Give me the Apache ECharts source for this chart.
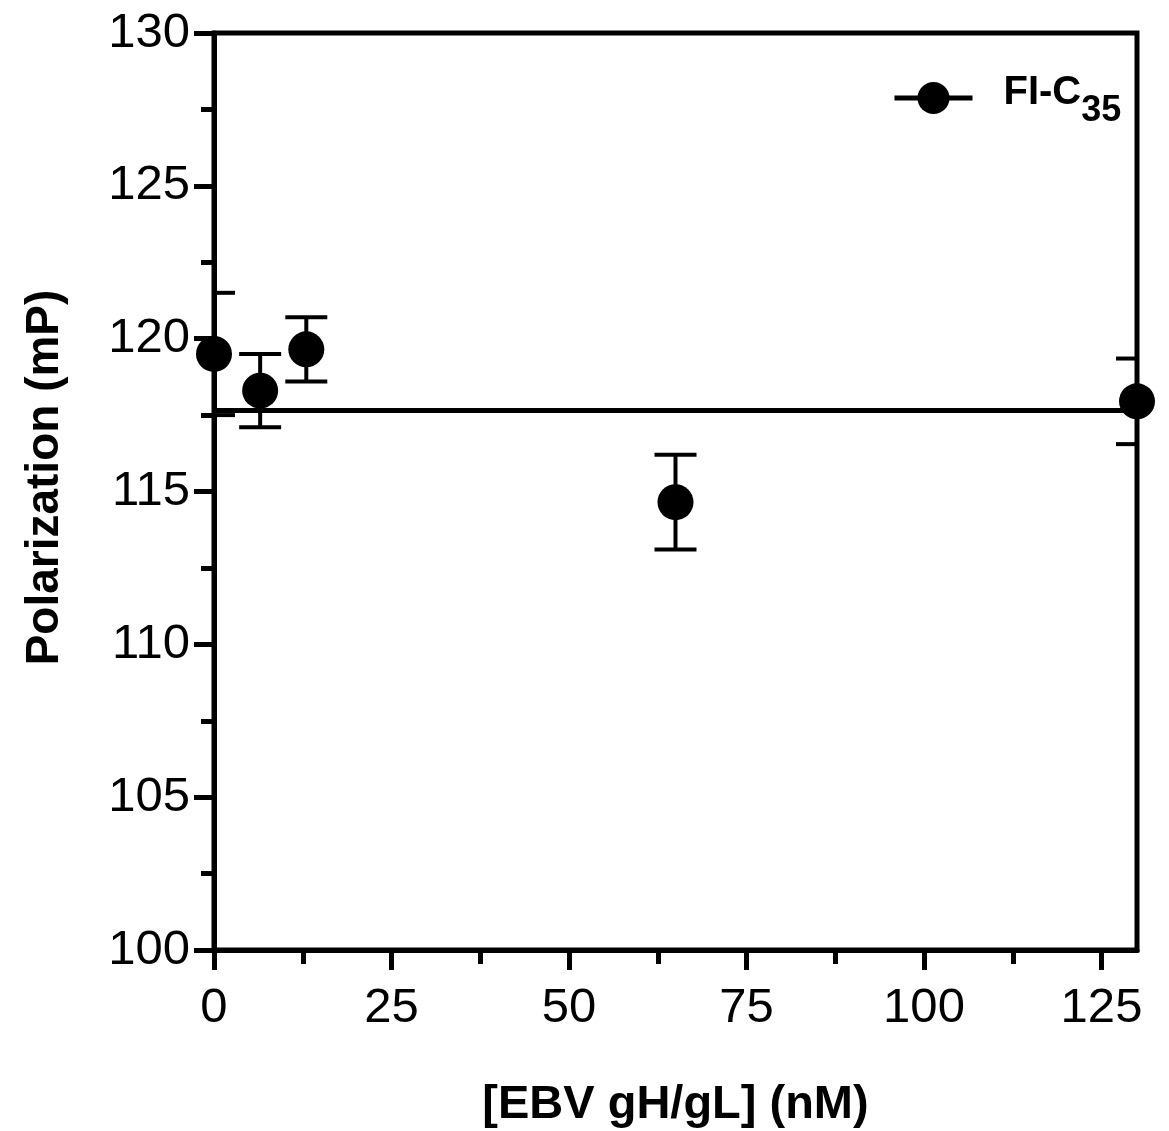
<!DOCTYPE html>
<html>
<head>
<meta charset="utf-8">
<script src="https://cdn.jsdelivr.net/npm/echarts@6/dist/echarts.min.js"></script>
<style>
  html, body { margin: 0; padding: 0; background: #fff; }
  #chart { width: 1169px; height: 1131px; }
</style>
</head>
<body>
<div id="chart"></div>
<script>
// ---- data ----
const concentrations = [0, 6.5, 13, 65, 130];          // [EBV gH/gL] (nM)
const polarization   = [119.5, 118.3, 119.65, 114.65, 117.95]; // mP
const errors         = [2.0, 1.2, 1.05, 1.55, 1.4];     // error bar half-length (mP)
const fitLevel       = 117.65;                          // horizontal fit line (mP)
const xMajorTicks    = [0, 25, 50, 75, 100, 125];
const xMinorTicks    = [12.5, 37.5, 62.5, 87.5, 112.5];
const seriesName     = 'FI-C35';

const FONT = 'Liberation Sans, Arial, Helvetica, sans-serif';

const pointData = concentrations.map((x, i) => [x, polarization[i]]);
const errData = concentrations.map((x, i) => [x, polarization[i] - errors[i], polarization[i] + errors[i]]);
const fitData = [[0, fitLevel], [130, fitLevel]];

const chart = echarts.init(document.getElementById('chart'), null, { renderer: 'canvas' });

const gridBox = { left: 214, right: 32, top: 33, bottom: 181 };

const option = {
  backgroundColor: '#fff',
  animation: false,
  grid: [
    Object.assign({ show: true, borderColor: '#000', borderWidth: 5, backgroundColor: 'transparent', containLabel: false, outerBoundsMode: 'none' }, gridBox),
    Object.assign({ show: false, containLabel: false, outerBoundsMode: 'none' }, gridBox)
  ],
  legend: {
    show: true,
    data: [seriesName],
    left: 887,
    top: 62,
    itemWidth: 78,
    itemHeight: 40,
    lineStyle: { color: '#000', width: 5, opacity: 1 },
    itemStyle: { color: '#000', opacity: 1 },
    formatter: () => '{a|FI-C}{b|35}',
    textStyle: {
      padding: [0, 0, 0, 26],
      rich: {
        a: { fontFamily: FONT, fontWeight: 'bold', fontSize: 40, color: '#000', lineHeight: 40, padding: [0, 0, 10, 0] },
        b: { fontFamily: FONT, fontWeight: 'bold', fontSize: 36, color: '#000', lineHeight: 36, padding: [26, 0, 0, 0] }
      }
    }
  },
  xAxis: [
    {
      type: 'value',
      gridIndex: 0,
      min: 0,
      max: 130,
      position: 'bottom',
      axisLine: { show: true, onZero: false, lineStyle: { color: '#000', width: 5 } },
      axisTick: { show: true, customValues: xMajorTicks, length: 20, lineStyle: { color: '#000', width: 5 } },
      axisLabel: { show: true, customValues: xMajorTicks, fontFamily: FONT, fontSize: 49, color: '#000', margin: 34 },
      splitLine: { show: false },
      name: '[EBV gH/gL] (nM)',
      nameLocation: 'middle',
      nameGap: 132,
      nameTextStyle: { fontFamily: FONT, fontWeight: 'bold', fontSize: 47, color: '#000' }
    },
    {
      type: 'value',
      gridIndex: 1,
      min: 0,
      max: 130,
      position: 'bottom',
      axisLine: { show: false },
      axisTick: { show: true, customValues: xMinorTicks, length: 14, lineStyle: { color: '#000', width: 5 } },
      axisLabel: { show: false },
      splitLine: { show: false }
    }
  ],
  yAxis: [
    {
      type: 'value',
      gridIndex: 0,
      min: 100,
      max: 130,
      interval: 5,
      axisLine: { show: true, onZero: false, lineStyle: { color: '#000', width: 5 } },
      axisTick: { show: true, length: 20, lineStyle: { color: '#000', width: 5 } },
      minorTick: { show: true, splitNumber: 2, length: 13, lineStyle: { color: '#000', width: 5 } },
      axisLabel: { fontFamily: FONT, fontSize: 49, color: '#000', margin: 24 },
      splitLine: { show: false },
      minorSplitLine: { show: false },
      name: 'Polarization (mP)',
      nameLocation: 'middle',
      nameGap: 146,
      nameTextStyle: { fontFamily: FONT, fontWeight: 'bold', fontSize: 46, color: '#000', padding: [0, 0, 0, 28] }
    },
    {
      type: 'value',
      gridIndex: 1,
      min: 100,
      max: 130,
      show: false
    }
  ],
  series: [
    {
      name: 'fit',
      type: 'line',
      xAxisIndex: 0,
      yAxisIndex: 0,
      data: fitData,
      showSymbol: false,
      symbol: 'none',
      lineStyle: { color: '#000', width: 5 },
      silent: true,
      z: 2
    },
    {
      name: 'errors',
      type: 'custom',
      xAxisIndex: 0,
      yAxisIndex: 0,
      data: errData,
      z: 3,
      renderItem: function (params, api) {
        const x = api.value(0);
        const pLo = api.coord([x, api.value(1)]);
        const pHi = api.coord([x, api.value(2)]);
        const cs = params.coordSys;
        const half = 21;
        const cx = v => Math.max(cs.x, Math.min(cs.x + cs.width, v));
        const style = { stroke: '#000', lineWidth: 4, fill: null };
        return {
          type: 'group',
          children: [
            { type: 'line', shape: { x1: pHi[0], y1: pHi[1], x2: pLo[0], y2: pLo[1] }, style: style },
            { type: 'line', shape: { x1: cx(pHi[0] - half), y1: pHi[1], x2: cx(pHi[0] + half), y2: pHi[1] }, style: style },
            { type: 'line', shape: { x1: cx(pLo[0] - half), y1: pLo[1], x2: cx(pLo[0] + half), y2: pLo[1] }, style: style }
          ]
        };
      }
    },
    {
      name: seriesName,
      type: 'line',
      xAxisIndex: 0,
      yAxisIndex: 0,
      data: pointData,
      symbol: 'circle',
      symbolSize: 36,
      showAllSymbol: true,
      itemStyle: { color: '#000', borderWidth: 0 },
      lineStyle: { color: '#000', width: 0, opacity: 0 },
      clip: false,
      z: 4
    }
  ]
};

chart.setOption(option);
</script>
</body>
</html>
